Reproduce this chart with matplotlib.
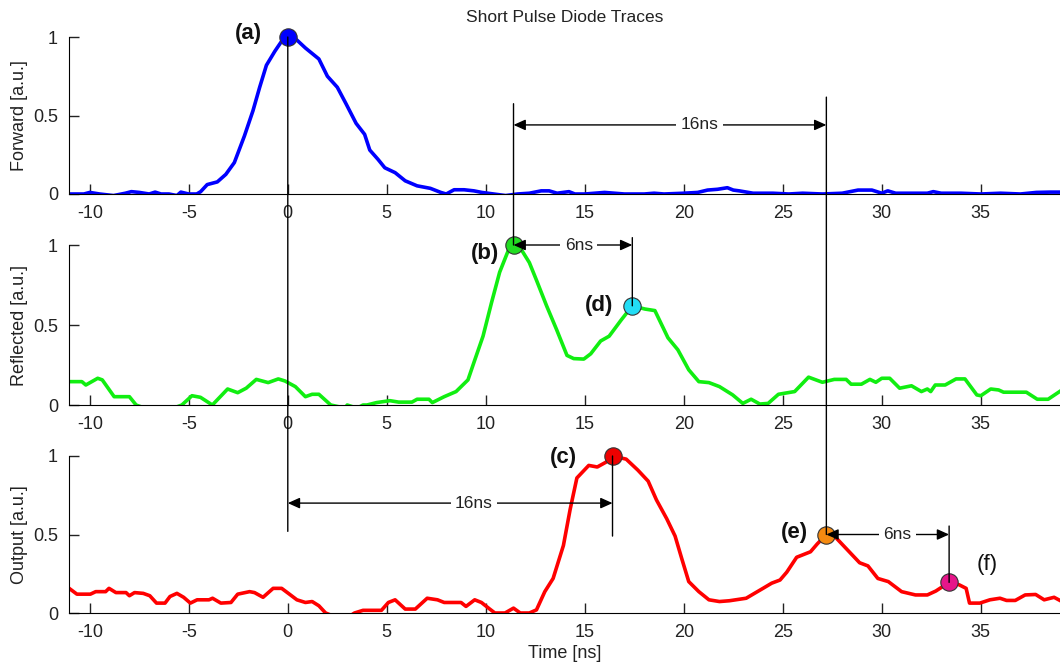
import matplotlib
matplotlib.use("Agg")
import matplotlib.pyplot as plt
from matplotlib.patches import ConnectionPatch

plt.rcParams['font.family'] = ['Liberation Sans', 'DejaVu Sans']

# ---- traces (time in ns, amplitude in a.u.) ----
t_fwd = [-11, -10.3, -10, -9.5, -8.8, -8.2, -7.9, -7.5, -7, -6.7, -6.4, -6, -5.6, -5.4, -5,
         -4.6, -4.4, -4.07, -3.56, -3.13, -2.7, -2.19, -1.76, -1.42, -1.08, -0.65, -0.22, 0,
         0.38, 0.89, 1.57, 2.0, 2.5, 2.94, 3.45, 3.88, 4.14, 4.56, 4.9, 5.42, 5.93, 6.53, 7.2,
         7.73, 8.0, 8.4, 8.9, 9.4, 9.8, 10.4, 11, 11.6, 12.2, 12.8, 13.2, 13.6, 14.2, 14.5, 15,
         16, 16.5, 17, 18, 18.5, 19, 20, 20.7, 21.2, 21.7, 22.2, 22.5, 22.8, 23.5, 24.5, 25.3,
         26, 27, 28, 28.8, 29.5, 30, 30.3, 30.7, 31.5, 32.3, 32.6, 33, 34, 35, 36, 37, 37.8,
         38.5, 39.1]
forward = [0.0, 0.0, 0.01, 0.0, -0.01, 0.005, 0.015, 0.01, 0.0, 0.012, 0.0, 0.0, -0.01, 0.012, 0.0,
           0.0, 0.015, 0.06, 0.077, 0.125, 0.2, 0.37, 0.53, 0.68, 0.82, 0.91, 0.99, 1.0,
           0.99, 0.93, 0.86, 0.75, 0.68, 0.575, 0.45, 0.38, 0.28, 0.22, 0.167, 0.136, 0.084, 0.052, 0.036,
           0.01, 0.0, 0.027, 0.027, 0.02, 0.01, 0.0, -0.01, 0.0, 0.005, 0.02, 0.02, 0.005, 0.015, 0.0, 0.0,
           0.01, 0.005, 0.0, 0.0, 0.005, 0.0, 0.005, 0.01, 0.025, 0.03, 0.04, 0.025, 0.02, 0.005, 0.005, 0.0,
           0.005, 0.0, 0.005, 0.025, 0.025, 0.005, 0.02, 0.005, 0.005, 0.005, 0.015, 0.005, 0.005, 0.0, 0.005, 0.0, 0.01,
           0.012, 0.012]

t_ref = [-11, -10.4, -10.2, -9.6, -9.37, -8.77, -8.0, -7.66, -7.0, -6.0, -5.35, -4.84, -4.41, -3.81,
         -3.04, -2.53, -2.1, -1.59, -0.99, -0.48, -0.14, 0.38, 0.89, 1.23, 1.57, 2.17, 2.9, 3.0, 3.5,
         3.8, 4.0, 4.48, 5.16, 5.6, 6.27, 6.53, 7.13, 7.3, 7.9, 8.5, 9.1, 9.44, 9.86, 10.29, 10.7,
         11.15, 11.4, 11.8, 12.2, 12.56, 13.07, 13.58, 14.1, 14.44, 14.95, 15.3, 15.8, 16.23, 16.83,
         17.4, 18.03, 18.54, 19.2, 19.7, 20.25, 20.76, 21.27, 21.8, 22.47, 22.98, 23.4, 23.84, 24.26,
         24.78, 25.6, 26.3, 27.0, 27.6, 28.2, 28.45, 28.97, 29.4, 29.7, 30.0, 30.4, 30.9, 31.5, 32.0,
         32.3, 32.47, 32.7, 33.2, 33.75, 34.2, 34.8, 35.0, 35.5, 35.9, 36.15, 37.3, 37.85, 38.4, 39.1]
reflected = [0.146, 0.146, 0.125, 0.167, 0.157, 0.052, 0.052, 0.0, -0.03, -0.03, 0.0, 0.058, 0.048, 0.0,
             0.1, 0.077, 0.105, 0.16, 0.14, 0.163, 0.15, 0.115, 0.052, 0.067, 0.067, 0.0, -0.02, 0.0, -0.02,
             0.0, 0.0, 0.015, 0.027, 0.018, 0.018, 0.036, 0.036, 0.015, 0.052, 0.084, 0.157, 0.28, 0.43, 0.64, 0.83,
             0.97, 1.0, 0.97, 0.89, 0.78, 0.62, 0.47, 0.31, 0.29, 0.287, 0.32, 0.4, 0.43, 0.53,
             0.62, 0.6, 0.59, 0.42, 0.345, 0.22, 0.146, 0.14, 0.115, 0.063, 0.01, 0.036, 0.006, 0.01,
             0.067, 0.084, 0.174, 0.142, 0.16, 0.16, 0.13, 0.13, 0.16, 0.142, 0.167, 0.167, 0.105, 0.12, 0.084,
             0.1, 0.084, 0.125, 0.125, 0.163, 0.163, 0.063, 0.058, 0.1, 0.094, 0.08, 0.08, 0.036, 0.036, 0.094]

t_out = [-11, -10.65, -9.97, -9.7, -9.2, -9.03, -8.68, -8.17, -8.0, -7.74, -7.3, -6.97, -6.63, -6.2,
         -5.95, -5.6, -5.26, -4.92, -4.58, -3.98, -3.8, -3.38, -2.87, -2.53, -1.93, -1.68, -1.25,
         -0.74, -0.31, 0.03, 0.46, 0.89, 1.23, 1.57, 1.91, 2.5, 3.0, 3.37, 3.8, 4.73, 5.08, 5.42, 5.93,
         6.44, 7.04, 7.56, 7.9, 8.75, 9.0, 9.44, 9.78, 10.2, 10.46, 10.97, 11.4, 11.74, 12.2, 12.56,
         12.98, 13.4, 13.92, 14.26, 14.6, 15.2, 15.63, 16.06, 16.4, 17.09, 17.68, 18.2, 18.62, 19.14,
         19.56, 19.9, 20.25, 20.76, 21.27, 21.8, 22.3, 23.15, 23.5, 24.0, 24.44, 24.86, 25.2, 25.7,
         26.4, 26.74, 27.2, 27.68, 28.28, 28.88, 29.3, 29.8, 30.33, 31.0, 31.7, 32.3, 32.73, 33.4,
         33.9, 34.26, 34.43, 34.95, 35.46, 35.97, 36.3, 36.74, 37.24, 37.77, 38.2, 38.7, 39.1]
output = [0.153, 0.12, 0.12, 0.136, 0.136, 0.157, 0.13, 0.13, 0.11, 0.13, 0.125, 0.11, 0.063, 0.063,
          0.105, 0.125, 0.1, 0.063, 0.084, 0.084, 0.094, 0.063, 0.067, 0.12, 0.136, 0.13, 0.1,
          0.157, 0.157, 0.125, 0.084, 0.067, 0.073, 0.046, 0.0, -0.03, -0.03, 0.0, 0.017, 0.017, 0.067, 0.084, 0.025,
          0.025, 0.094, 0.084, 0.067, 0.067, 0.042, 0.084, 0.067, 0.025, 0.0, 0.0, 0.031, 0.0, 0.0, 0.02,
          0.136, 0.22, 0.43, 0.66, 0.86, 0.94, 0.93, 0.96, 1.0, 0.98, 0.91, 0.84, 0.72, 0.6,
          0.49, 0.345, 0.2, 0.136, 0.084, 0.073, 0.078, 0.094, 0.12, 0.157, 0.19, 0.21, 0.26, 0.355,
          0.39, 0.44, 0.5, 0.48, 0.4, 0.32, 0.3, 0.22, 0.2, 0.136, 0.115, 0.115, 0.14, 0.195,
          0.18, 0.157, 0.063, 0.063, 0.084, 0.094, 0.08, 0.08, 0.115, 0.118, 0.084, 0.1, 0.073]

# ---- marked points: (time, amplitude) ----
pt_a = (0.0, 1.0)
pt_b = (11.4, 1.0)
pt_c = (16.4, 1.0)
pt_d = (17.4, 0.62)
pt_e = (27.2, 0.50)
pt_f = (33.4, 0.195)

xticks = [-10, -5, 0, 5, 10, 15, 20, 25, 30, 35]
yticks = [0, 0.5, 1]
ytick_labels = ['0', '0.5', '1']

W, H = 1060, 668
fig = plt.figure(figsize=(W / 100, H / 100), dpi=100)


def make_axes(top_px, bottom_px):
    left = 69 / W
    return fig.add_axes([left, 1 - bottom_px / H, 1 - left, (bottom_px - top_px) / H])


ax1 = make_axes(37, 194)
ax2 = make_axes(245, 405)
ax3 = make_axes(456, 613)

for ax, lab in [(ax1, 'Forward [a.u.]'), (ax2, 'Reflected [a.u.]'), (ax3, 'Output [a.u.]')]:
    ax.set_xlim(-11.05, 39.0)
    ax.set_ylim(0, 1)
    ax.spines['top'].set_visible(False)
    ax.spines['right'].set_visible(False)
    ax.set_xticks(xticks)
    ax.set_xticklabels([str(v) for v in xticks])
    ax.set_yticks(yticks)
    ax.set_yticklabels(ytick_labels)
    ax.tick_params(direction='in', length=7, width=1, labelsize=13, pad=8, colors='#222222')
    ax.tick_params(axis='y', pad=8)
    ax.set_ylabel(lab, fontsize=13, color='#222222')
    ax.yaxis.set_label_coords(-0.041, 0.5)
    ax.patch.set_alpha(0)

ax1.set_title('Short Pulse Diode Traces', fontsize=12.5, color='#222222', pad=11)
ax3.set_xlabel('Time [ns]', fontsize=13, color='#222222', labelpad=3)

lw = 2.6
ax1.plot(t_fwd, forward, color='#0000ff', lw=lw)
ax2.plot(t_ref, reflected, color='#11ee11', lw=lw)
ax3.plot(t_out, output, color='#ff0000', lw=lw)

mk = dict(marker='o', markersize=12.5, markeredgecolor='#333333', markeredgewidth=0.8,
          clip_on=False, zorder=5, linestyle='none')
ax1.plot(*pt_a, markerfacecolor='#0000ff', **mk)
ax2.plot(*pt_b, markerfacecolor='#22dd22', **mk)
ax2.plot(*pt_d, markerfacecolor='#22ddf5', **mk)
ax3.plot(*pt_c, markerfacecolor='#ee0000', **mk)
ax3.plot(*pt_e, markerfacecolor='#f58a10', **mk)
ax3.plot(*pt_f, markerfacecolor='#e6158a', **mk)

lab_kw = dict(fontsize=16, fontweight='bold', ha='center', va='center', color='#111111')
ax1.text(-2.0, 1.02, '(a)', **lab_kw)
ax2.text(9.95, 0.95, '(b)', **lab_kw)
ax3.text(13.9, 0.99, '(c)', **lab_kw)
ax2.text(15.7, 0.625, '(d)', **lab_kw)
ax3.text(25.6, 0.51, '(e)', **lab_kw)
ax3.text(35.3, 0.31, '(f)', **{**lab_kw, 'fontweight': 'normal'})


def vline(axA, yA, axB, yB, x):
    con = ConnectionPatch(xyA=(x, yA), coordsA=axA.transData, xyB=(x, yB), coordsB=axB.transData,
                          color='black', lw=1.0, zorder=6)
    fig.add_artist(con)


vline(ax1, pt_a[1], ax3, 0.52, pt_a[0])
vline(ax1, 0.575, ax2, pt_b[1], pt_b[0])
vline(ax1, 0.617, ax3, pt_e[1], pt_e[0])
vline(ax3, pt_c[1], ax3, 0.49, pt_c[0])
vline(ax2, 1.046, ax2, pt_d[1], pt_d[0])
vline(ax3, 0.554, ax3, pt_f[1], pt_f[0])


def span(ax, x1, x2, y, text, tx):
    ax.annotate('', xy=(x2, y), xytext=(x1, y), annotation_clip=False,
                arrowprops=dict(arrowstyle='<|-|>,head_length=0.6,head_width=0.27',
                                mutation_scale=12, color='black', lw=1.0,
                                shrinkA=0, shrinkB=0), zorder=6)
    ax.text(tx, y, text, fontsize=12.5, ha='center', va='center', color='#222222', zorder=7,
            bbox=dict(boxstyle='square,pad=0.25', fc='white', ec='none'))


span(ax1, pt_b[0], pt_e[0], 0.44, '16ns', 20.8)
span(ax2, pt_b[0], pt_d[0], 1.0, '6ns', 14.7)
span(ax3, pt_a[0], pt_c[0], 0.70, '16ns', 9.4)
span(ax3, pt_e[0], pt_f[0], 0.50, '6ns', 30.8)

fig.savefig('out.png', dpi=100, facecolor='white')
